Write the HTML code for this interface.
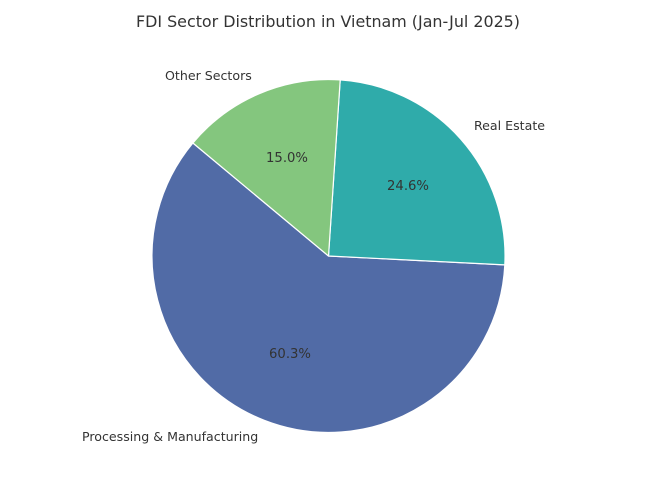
<!DOCTYPE html>
<html><head><meta charset="utf-8"><style>
html,body{margin:0;padding:0;background:#fff;}
svg{display:block;font-family:"DejaVu Sans","Liberation Sans",sans-serif;}
</style></head><body>
<svg width="655" height="491" viewBox="0 0 655 491" xmlns="http://www.w3.org/2000/svg">
<rect width="655" height="491" fill="#fff"/>
<text x="328" y="27" text-anchor="middle" font-size="15.9" fill="#333">FDI Sector Distribution in Vietnam (Jan-Jul 2025)</text>
<g stroke="#fff" stroke-width="1.2" stroke-linejoin="round">
<path d="M328.5 256 L192.9 143 A176.5 176.5 0 1 0 504.8 264.9 Z" fill="#516ba6"/>
<path d="M328.5 256 L504.8 264.9 A176.5 176.5 0 0 0 340.2 79.9 Z" fill="#2fabaa"/>
<path d="M328.5 256 L340.2 79.9 A176.5 176.5 0 0 0 192.9 143 Z" fill="#84c67e"/>
</g>
<g font-size="13.2" fill="#333" text-anchor="middle">
<text x="290" y="358">60.3%</text>
<text x="408" y="190">24.6%</text>
<text x="287" y="162">15.0%</text>
</g>
<g font-size="12.6" fill="#333">
<text x="82" y="441">Processing &amp; Manufacturing</text>
<text x="474" y="130">Real Estate</text>
<text x="165" y="80">Other Sectors</text>
</g>
</svg>
</body></html>
